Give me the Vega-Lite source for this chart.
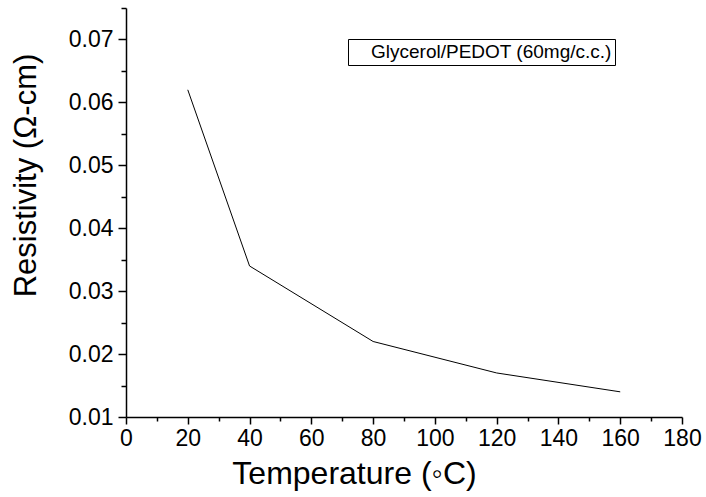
{
  "$schema": "https://vega.github.io/schema/vega-lite/v6.json",
  "width": 556,
  "height": 409,
  "autosize": {"type": "none"},
  "padding": {"left": 126, "top": 8, "right": 24, "bottom": 80},
  "background": "white",
  "config": {
    "view": {"stroke": null},
    "font": "Liberation Sans"
  },
  "data": {
    "values": [
      {"temperature": 20, "resistivity": 0.062, "series": "Glycerol/PEDOT (60mg/c.c.)"},
      {"temperature": 40, "resistivity": 0.034, "series": "Glycerol/PEDOT (60mg/c.c.)"},
      {"temperature": 80, "resistivity": 0.022, "series": "Glycerol/PEDOT (60mg/c.c.)"},
      {"temperature": 120, "resistivity": 0.017, "series": "Glycerol/PEDOT (60mg/c.c.)"},
      {"temperature": 160, "resistivity": 0.014, "series": "Glycerol/PEDOT (60mg/c.c.)"}
    ]
  },
  "resolve": {"axis": {"x": "independent", "y": "independent"}},
  "layer": [
    {
      "mark": {"type": "line", "strokeOpacity": 0},
      "encoding": {
        "x": {
          "field": "temperature",
          "type": "quantitative",
          "scale": {"domain": [0, 180], "nice": false, "zero": false},
          "axis": {
            "orient": "bottom",
            "values": [10, 30, 50, 70, 90, 110, 130, 150, 170],
            "labels": false,
            "title": null,
            "domain": false,
            "grid": false,
            "tickColor": "black",
            "tickWidth": 1.5,
            "tickSize": 4
          }
        },
        "y": {
          "field": "resistivity",
          "type": "quantitative",
          "scale": {"domain": [0.01, 0.075], "nice": false, "zero": false},
          "axis": {
            "orient": "left",
            "values": [0.015, 0.025, 0.035, 0.045, 0.055, 0.065, 0.075],
            "labels": false,
            "title": null,
            "domain": false,
            "grid": false,
            "tickColor": "black",
            "tickWidth": 1.5,
            "tickSize": 5
          }
        }
      }
    },
    {
      "mark": {"type": "line", "strokeWidth": 1},
      "encoding": {
        "x": {
          "field": "temperature",
          "type": "quantitative",
          "scale": {"domain": [0, 180], "nice": false, "zero": false},
          "axis": {
            "orient": "bottom",
            "values": [0, 20, 40, 60, 80, 100, 120, 140, 160, 180],
            "title": "Temperature (◦C)",
            "titleFontSize": 32,
            "titleFontWeight": "normal",
            "titleColor": "black",
            "titlePadding": 8,
            "titleX": 228,
            "labelFontSize": 23,
            "labelColor": "black",
            "labelPadding": 3,
            "labelFlush": false,
            "domainColor": "black",
            "domainWidth": 1.5,
            "tickColor": "black",
            "tickWidth": 1.5,
            "tickSize": 7,
            "grid": false
          }
        },
        "y": {
          "field": "resistivity",
          "type": "quantitative",
          "scale": {"domain": [0.01, 0.075], "nice": false, "zero": false},
          "axis": {
            "orient": "left",
            "values": [0.01, 0.02, 0.03, 0.04, 0.05, 0.06, 0.07],
            "format": ".2f",
            "title": "Resistivity (Ω-cm)",
            "titleFontSize": 31,
            "titleFontWeight": "normal",
            "titleColor": "black",
            "titleX": -84,
            "titleY": 167,
            "labelFontSize": 23,
            "labelColor": "black",
            "labelPadding": 5,
            "labelFlush": false,
            "domainColor": "black",
            "domainWidth": 1.5,
            "tickColor": "black",
            "tickWidth": 1.5,
            "tickSize": 8,
            "grid": false
          }
        },
        "color": {
          "field": "series",
          "type": "nominal",
          "scale": {"range": ["black"]},
          "legend": {
            "title": null,
            "orient": "none",
            "legendX": 222,
            "legendY": 31,
            "strokeColor": "black",
            "padding": 3,
            "labelFontSize": 19,
            "labelLimit": 400,
            "labelColor": "black",
            "symbolOpacity": 0,
            "symbolStrokeWidth": 0,
            "symbolSize": 100,
            "labelOffset": 1
          }
        }
      }
    }
  ]
}
